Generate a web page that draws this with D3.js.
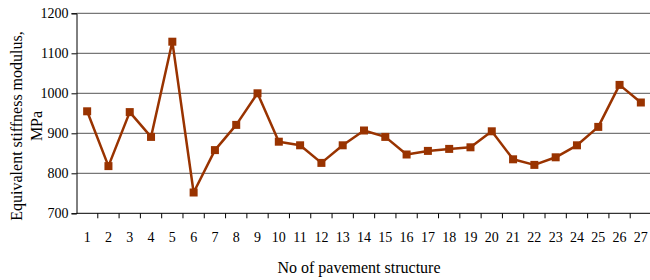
<!DOCTYPE html>
<html>
<head>
<meta charset="utf-8">
<script src="https://cdn.jsdelivr.net/npm/d3@7"></script>
<style>
  body { margin: 0; background: #fff; }
</style>
</head>
<body>
<div id="chart"></div>
<script>
// pavement structure numbers
const structures = d3.range(1, 28).map(String);
// equivalent stiffness modulus, MPa
const modulus = [955, 818, 953, 891, 1129, 752, 858, 921, 1000, 879, 870, 826, 870,
                 907, 891, 847, 856, 861, 865, 905, 835, 821, 840, 870, 916, 1021, 977];
const yTicks = [700, 800, 900, 1000, 1100, 1200];

const data = structures.map((s, i) => ({ s, v: modulus[i] }));

const W = 650, H = 280;
const FONT = "'Liberation Serif', 'Times New Roman', serif";
const margin = { top: 13.3, left: 76.5, bottom: 280 - 213.3 };
const plotW = 575; // the plot runs slightly past the right edge
const plotH = H - margin.top - margin.bottom;

const svg = d3.select("#chart").append("svg")
    .attr("width", W)
    .attr("height", H)
    .attr("font-family", FONT);

const g = svg.append("g")
    .attr("transform", `translate(${margin.left},${margin.top})`);

const x = d3.scaleBand().domain(structures).range([0, plotW]);
const y = d3.scaleLinear().domain([700, 1200]).range([plotH, 0]);

// horizontal grid lines
g.selectAll(".grid")
    .data(yTicks.slice(1))
    .enter().append("line")
    .attr("x1", 0)
    .attr("x2", plotW)
    .attr("y1", d => y(d))
    .attr("y2", d => y(d))
    .attr("stroke", "#555")
    .attr("stroke-width", 1);

// y axis
const yAxis = g.append("g")
    .call(d3.axisLeft(y).tickValues(yTicks).tickFormat(d3.format("d")).tickSize(5).tickPadding(3))
    .attr("font-family", FONT)
    .attr("font-size", 14);
yAxis.select(".domain").attr("stroke", "#000");

// x axis, ticks between categories
const xAxis = g.append("g")
    .attr("transform", `translate(0,${plotH})`);
xAxis.append("line")
    .attr("x1", 0).attr("x2", plotW)
    .attr("stroke", "#000");
xAxis.selectAll(".tk")
    .data(structures)
    .enter().append("line")
    .attr("x1", d => x(d) + x.bandwidth())
    .attr("x2", d => x(d) + x.bandwidth())
    .attr("y1", 0).attr("y2", 5)
    .attr("stroke", "#000");
xAxis.selectAll(".lbl")
    .data(structures)
    .enter().append("text")
    .attr("x", d => x(d) + x.bandwidth() / 2)
    .attr("y", 29)
    .attr("text-anchor", "middle")
    .attr("font-size", 14)
    .text(d => d);

// the line
const line = d3.line()
    .x(d => x(d.s) + x.bandwidth() / 2)
    .y(d => y(d.v));

g.append("path")
    .datum(data)
    .attr("fill", "none")
    .attr("stroke", "#993300")
    .attr("stroke-width", 2.5)
    .attr("stroke-linejoin", "round")
    .attr("d", line);

// square markers
g.selectAll(".pt")
    .data(data)
    .enter().append("rect")
    .attr("x", d => x(d.s) + x.bandwidth() / 2 - 4)
    .attr("y", d => y(d.v) - 4)
    .attr("width", 8)
    .attr("height", 8)
    .attr("fill", "#993300");

// axis titles
svg.append("text")
    .attr("x", 359)
    .attr("y", 273)
    .attr("text-anchor", "middle")
    .attr("font-size", 16)
    .text("No of pavement structure");

const yTitle = svg.append("text")
    .attr("transform", "translate(0,126) rotate(-90)")
    .attr("text-anchor", "middle")
    .attr("font-size", 16);
yTitle.append("tspan").attr("x", 0).attr("y", 22).text("Equivalent stiffness modulus,");
yTitle.append("tspan").attr("x", 0).attr("y", 42).text("MPa");
</script>
</body>
</html>
